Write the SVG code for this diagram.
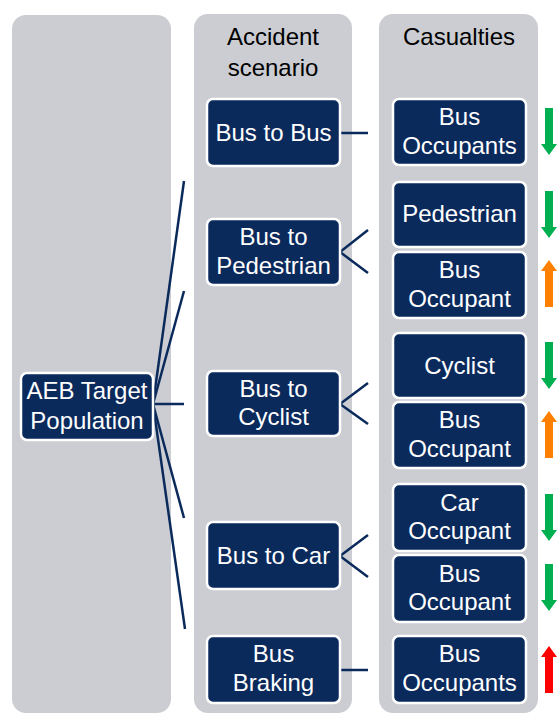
<svg xmlns="http://www.w3.org/2000/svg" xmlns:xlink="http://www.w3.org/1999/xlink" width="557" height="716" viewBox="0 0 557 716">
<style>
.col{fill:#cbcdd2}
.node rect{fill:#0b2a5c;stroke:#ffffff;stroke-width:2.5}
.node text,.hdr{font-family:"Liberation Sans",Arial,sans-serif;font-size:24px;text-anchor:middle}
.node text{fill:#ffffff}
.hdr{fill:#000000}
.conn line{stroke:#0b2a5c;stroke-width:2.5;stroke-linecap:butt}
.green{fill:#00b050}
.orange{fill:#ff8000}
.red{fill:#ff0000}
</style>
<defs>
<path id="down" d="M-4,0 H4 V36 H8 L0,47 L-8,36 H-4 Z"/>
<path id="up" d="M0,0 L8,11 H4 V47 H-4 V11 H-8 Z"/>
</defs>
<rect width="557" height="716" fill="#ffffff"/>
<g id="columns">
<rect class="col" x="12" y="15" width="159" height="698" rx="14"/>
<rect class="col" x="194" y="14" width="158" height="699" rx="14"/>
<rect class="col" x="379" y="14" width="159" height="699" rx="14"/>
</g>
<g id="headers">
<text class="hdr" x="273" y="45">Accident</text>
<text class="hdr" x="273" y="76">scenario</text>
<text class="hdr" x="459" y="45">Casualties</text>
</g>
<g class="conn" id="connectors">
<line x1="153" y1="404" x2="184" y2="181"/>
<line x1="153" y1="404" x2="184" y2="291"/>
<line x1="153" y1="404" x2="184" y2="404"/>
<line x1="153" y1="404" x2="184" y2="518"/>
<line x1="153" y1="404" x2="185" y2="629"/>
<line x1="340" y1="133" x2="368" y2="133"/>
<line x1="340" y1="252" x2="368" y2="230"/>
<line x1="340" y1="252" x2="368" y2="273"/>
<line x1="340" y1="404" x2="368" y2="383"/>
<line x1="340" y1="404" x2="368" y2="424"/>
<line x1="340" y1="556" x2="368" y2="535"/>
<line x1="340" y1="556" x2="368" y2="577"/>
<line x1="340" y1="670" x2="368" y2="670"/>
</g>
<g class="node" id="aeb">
<rect x="21" y="373" width="132" height="67" rx="6"/>
<text x="87" y="398.5">AEB Target</text>
<text x="87" y="428.5">Population</text>
</g>
<g class="node" id="bus-to-bus">
<rect x="207" y="99" width="133" height="67" rx="6"/>
<text x="273.5" y="141">Bus to Bus</text>
</g>
<g class="node" id="bus-to-pedestrian">
<rect x="207" y="219" width="133" height="66" rx="6"/>
<text x="273.5" y="245">Bus to</text>
<text x="273.5" y="273.5">Pedestrian</text>
</g>
<g class="node" id="bus-to-cyclist">
<rect x="207" y="371" width="133" height="65" rx="6"/>
<text x="273.5" y="396.5">Bus to</text>
<text x="273.5" y="425">Cyclist</text>
</g>
<g class="node" id="bus-to-car">
<rect x="207" y="522" width="133" height="67" rx="6"/>
<text x="273.5" y="563.5">Bus to Car</text>
</g>
<g class="node" id="bus-braking">
<rect x="207" y="636" width="133" height="67" rx="6"/>
<text x="273.5" y="662">Bus</text>
<text x="273.5" y="691">Braking</text>
</g>
<g class="node" id="cas-bus-occupants-1">
<rect x="393" y="99" width="133" height="66" rx="6"/>
<text x="459.5" y="125">Bus</text>
<text x="459.5" y="153.5">Occupants</text>
</g>
<g class="node" id="cas-pedestrian">
<rect x="393" y="182" width="133" height="65" rx="6"/>
<text x="459.5" y="222">Pedestrian</text>
</g>
<g class="node" id="cas-bus-occupant-ped">
<rect x="393" y="252" width="133" height="66" rx="6"/>
<text x="459.5" y="278">Bus</text>
<text x="459.5" y="306.5">Occupant</text>
</g>
<g class="node" id="cas-cyclist">
<rect x="393" y="333" width="133" height="65" rx="6"/>
<text x="459.5" y="373.5">Cyclist</text>
</g>
<g class="node" id="cas-bus-occupant-cyc">
<rect x="393" y="402" width="133" height="66" rx="6"/>
<text x="459.5" y="428">Bus</text>
<text x="459.5" y="456.5">Occupant</text>
</g>
<g class="node" id="cas-car-occupant">
<rect x="393" y="484" width="133" height="67" rx="6"/>
<text x="459.5" y="510.5">Car</text>
<text x="459.5" y="539">Occupant</text>
</g>
<g class="node" id="cas-bus-occupant-car">
<rect x="393" y="555" width="133" height="67" rx="6"/>
<text x="459.5" y="581.5">Bus</text>
<text x="459.5" y="610">Occupant</text>
</g>
<g class="node" id="cas-bus-occupants-2">
<rect x="393" y="636" width="133" height="67" rx="6"/>
<text x="459.5" y="662">Bus</text>
<text x="459.5" y="691">Occupants</text>
</g>
<g id="trend-arrows">
<use xlink:href="#down" href="#down" class="green" x="549" y="108"/>
<use xlink:href="#down" href="#down" class="green" x="549" y="191"/>
<use xlink:href="#up" href="#up" class="orange" x="549" y="260"/>
<use xlink:href="#down" href="#down" class="green" x="549" y="342"/>
<use xlink:href="#up" href="#up" class="orange" x="549" y="411"/>
<use xlink:href="#down" href="#down" class="green" x="549" y="494"/>
<use xlink:href="#down" href="#down" class="green" x="549" y="564"/>
<use xlink:href="#up" href="#up" class="red" x="549" y="646"/>
</g>
</svg>
